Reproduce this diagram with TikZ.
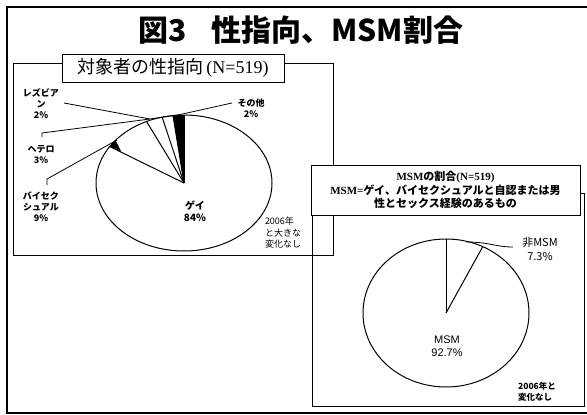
\documentclass[tikz,border=0pt]{standalone}
\usepackage{fontspec}
\newfontfamily\jp{Noto Sans CJK JP}
\newfontfamily\lser{Liberation Serif}
\newfontfamily\lsans{Liberation Sans}
\begin{document}
\begin{tikzpicture}[x=1pt,y=1pt,
  frame/.style={draw=black,line width=1.1pt},
  panel/.style={draw=black,line width=1pt},
  leader/.style={draw=black,line width=0.8pt},
  slice/.style={draw=black,line width=1pt},
  lab/.style={font=\jp\bfseries\fontsize{9}{11}\selectfont,align=center,inner sep=0pt},
  note/.style={font=\jp\fontsize{9}{11.5}\selectfont,align=left,inner sep=0pt}]
\useasboundingbox (0,0) rectangle (587,-415);
% outer frame
\draw[frame] (587,-7) -- (7,-7) -- (7,-413) -- (587,-413);
\node[font=\jp\bfseries\fontsize{30}{32}\selectfont,inner sep=0pt] (title) at (301,-30) {図3\hspace{0.8em}性指向、MSM割合};
% left panel
\draw[panel] (13,-63) rectangle (333,-255);
\node[draw,line width=1pt,fill=white,inner sep=0pt,minimum width=222pt,minimum height=28pt,
  font=\jp\fontsize{18}{20}\selectfont] (lt) at (173,-68) {対象者の性指向\,{\lser(N=519)}};
% pie 1
\coordinate (c1) at (184,-183);
\draw[slice,fill=white] (c1) ellipse [x radius=88pt,y radius=68pt];
\fill[black] (c1) -- ({184+88*cos(90)},{-183+68*sin(90)}) arc[start angle=90,end angle=97.2,x radius=88pt,y radius=68pt] -- cycle;
\fill[black] ({184+88*cos(147.6)},{-183+68*sin(147.6)}) -- ({184+88*cos(141)},{-183+68*sin(141)}) -- ({184+75*cos(147)},{-183+58*sin(147)}) -- cycle;
\foreach \a in {90,97.2,104.4,115.2,147.6}
  \draw[slice] (c1) -- ({184+88*cos(\a)},{-183+68*sin(\a)});
% labels pie 1
\node[lab] (les) at (41,-104) {レズビア\\ン\\2\%};
\node[lab] (het) at (41,-155) {ヘテロ\\3\%};
\node[lab] (bi) at (41,-207) {バイセク\\シュアル\\9\%};
\node[lab] (oth) at (251,-108) {その他\\2\%};
\node[lab,font=\jp\bfseries\fontsize{10}{12.5}\selectfont] (gay) at (195,-211) {ゲイ\\84\%};
\node[note,font=\jp\fontsize{9}{11.5}\selectfont] (n1) at (283,-233) {2006年\\と大きな\\変化なし};
% leaders pie 1
\coordinate (lesA) at (64,-103);
\coordinate (hetA) at (42,-137);
\coordinate (biA) at (47,-185);
\coordinate (othA) at (232,-103);
\draw[leader] (lesA) -- (150,-119);
\draw[leader] (hetA) -- (42,-133) -- (150,-119) -- (178,-115);
\draw[leader] (biA) -- (47,-179) -- (117,-140);
\draw[leader] (178,-115) -- (othA);
% right panel
\draw[panel] (312,-193) rectangle (584,-406);
\node[draw,line width=1pt,fill=white,inner sep=0pt,minimum width=269pt,minimum height=50pt,
  font=\jp\bfseries\fontsize{11}{13.5}\selectfont,align=center] (rt) at (445.5,-190)
  {{\lser\bfseries MSM}の割合{\lser\bfseries(N=519)}\\{\lser\bfseries MSM=}ゲイ、バイセクシュアルと自認または男\\性とセックス経験のあるもの};
% pie 2
\coordinate (c2) at (446,-313);
\draw[slice,fill=white] (c2) ellipse [x radius=83pt,y radius=74pt];
\draw[slice] (c2) -- ({446+83*cos(90)},{-313+74*sin(90)});
\draw[slice] (c2) -- ({446+83*cos(63.7)},{-313+74*sin(63.7)});
\node[font=\lsans\fontsize{11}{13}\selectfont,align=center,inner sep=0pt] (msm) at (447,-346) {MSM\\92.7\%};
\node[font=\jp\fontsize{11}{13}\selectfont,align=center,inner sep=0pt] (non) at (540,-249) {非MSM\\[1pt]7.3\%};
\coordinate (nonA) at (513,-247);
\draw[leader] (466,-242) .. controls (490,-242) and (495,-247) .. (nonA);
\node[note,font=\jp\bfseries\fontsize{8.5}{11}\selectfont] (n2) at (537,-392) {2006年と\\変化なし};
\end{tikzpicture}
\end{document}
